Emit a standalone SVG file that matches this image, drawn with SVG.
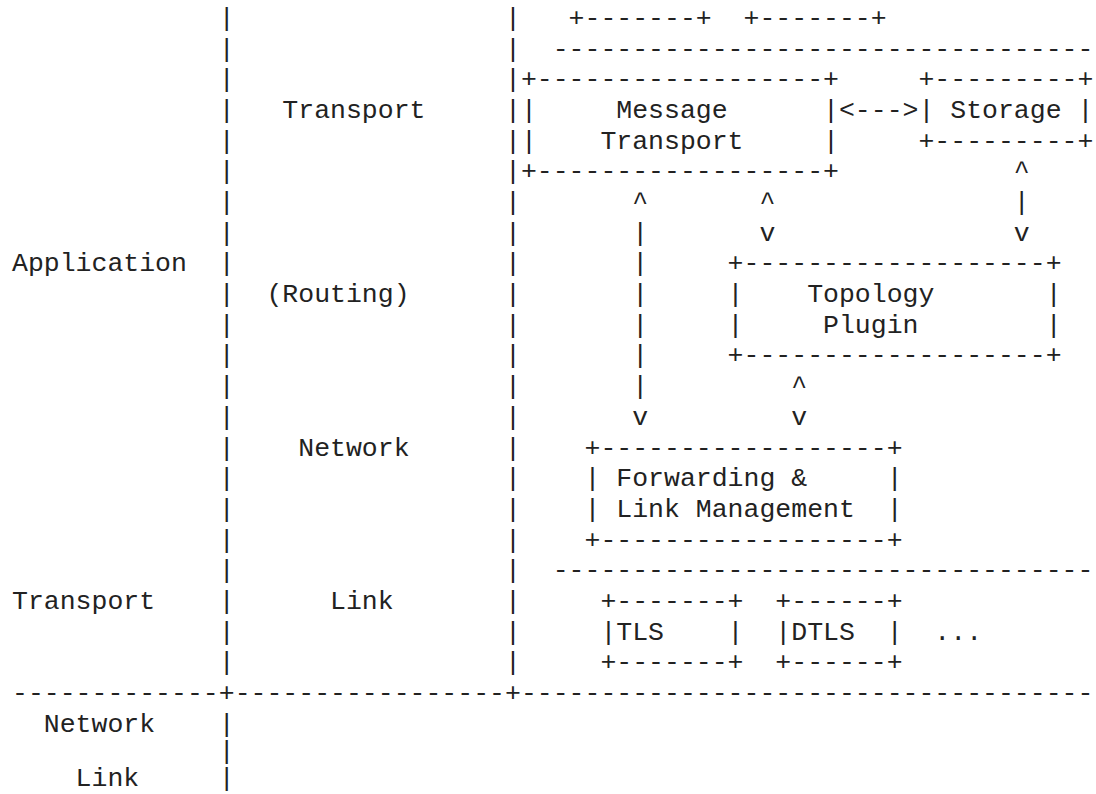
<svg xmlns="http://www.w3.org/2000/svg" width="1096" height="794" viewBox="0 0 1096 794">
<style>
text{font-family:"Liberation Mono","Courier New",monospace;font-size:26.5px;fill:#222;white-space:pre}
</style>
<rect width="1096" height="794" fill="#fff"/>
<g id="ascii" xml:space="preserve">
<text x="12" y="26">             |                 |   +-------+  +-------+</text>
<text x="12" y="56.68">             |                 |  ----------------------------------</text>
<text x="12" y="87.36">             |                 |+------------------+     +---------+</text>
<text x="12" y="118.04">             |   Transport     ||     Message      |&lt;---&gt;| Storage |</text>
<text x="12" y="148.72">             |                 ||    Transport     |     +---------+</text>
<text x="12" y="179.4">             |                 |+------------------+           ^</text>
<text x="12" y="210.08">             |                 |       ^       ^               |</text>
<text x="12" y="240.76">             |                 |       |       v               v</text>
<text x="12" y="271.44">Application  |                 |       |     +-------------------+</text>
<text x="12" y="302.12">             |  (Routing)      |       |     |    Topology       |</text>
<text x="12" y="332.8">             |                 |       |     |     Plugin        |</text>
<text x="12" y="363.48">             |                 |       |     +-------------------+</text>
<text x="12" y="394.16">             |                 |       |         ^</text>
<text x="12" y="424.84">             |                 |       v         v</text>
<text x="12" y="455.52">             |    Network      |    +------------------+</text>
<text x="12" y="486.2">             |                 |    | Forwarding &amp;     |</text>
<text x="12" y="516.88">             |                 |    | Link Management  |</text>
<text x="12" y="547.56">             |                 |    +------------------+</text>
<text x="12" y="578.24">             |                 |  ----------------------------------</text>
<text x="12" y="608.92">Transport    |      Link       |     +-------+  +------+</text>
<text x="12" y="639.6">             |                 |     |TLS    |  |DTLS  |  ...</text>
<text x="12" y="670.28">             |                 |     +-------+  +------+</text>
<text x="12" y="700.96">-------------+-----------------+------------------------------------</text>
<text x="12" y="731.64">  Network    |</text>
<text x="12" y="759">             |</text>
<text x="12" y="786">    Link     |</text>
</g>
</svg>
